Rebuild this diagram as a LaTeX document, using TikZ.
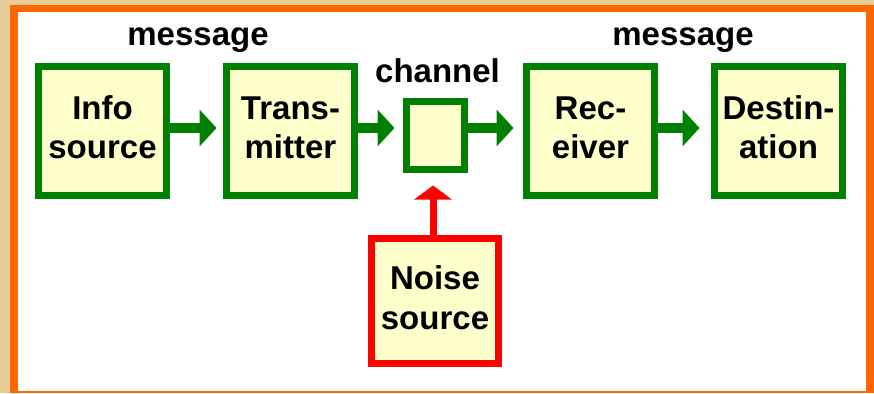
\documentclass[tikz,border=0pt]{standalone}
\usepackage{fontspec}
\setmainfont{Liberation Sans}
\usetikzlibrary{arrows.meta}
\definecolor{bgtan}{RGB}{230,204,150}
\definecolor{frameorange}{RGB}{255,102,0}
\definecolor{boxgreen}{RGB}{0,128,0}
\definecolor{boxfill}{RGB}{255,255,204}
\definecolor{noisered}{RGB}{255,0,0}
\newcommand\mylines[2]{\begin{tabular}{@{}c@{}}#1\\#2\end{tabular}}
\tikzset{
  blockbox/.style={draw=boxgreen, fill=boxfill, line width=7pt, inner sep=0pt,
    minimum width=128pt, minimum height=129pt,
    font=\fontsize{33}{40}\selectfont\bfseries},
  noisebox/.style={blockbox, draw=noisered, minimum width=127pt, minimum height=125pt},
  chanbox/.style={blockbox, minimum width=58pt, minimum height=68pt},
  lbl/.style={anchor=base, inner sep=0pt, font=\fontsize{33}{40}\selectfont\bfseries},
  garrow/.style={draw=boxgreen, line width=10pt, -{Triangle[width=36pt,length=17pt]}},
  rarrow/.style={draw=noisered, line width=7pt, -{Triangle[width=37pt,length=14pt]}}
}
\begin{document}
\begin{tikzpicture}[x=1pt,y=-1pt]
\useasboundingbox (0,0) rectangle (874,393);
\fill[bgtan] (0,0) rectangle (874,393);
\fill[frameorange] (10,5) rectangle (874,393);
\fill[white] (18,12) rectangle (866,391);

\node[blockbox] (info) at (102.5,131) {\mylines{Info}{source}};
\node[blockbox] (trans) at (290.5,131) {\mylines{Trans-}{mitter}};
\node[chanbox] (chan) at (435.5,135.5) {};
\node[blockbox] (recv) at (590.5,131) {\mylines{Rec-}{eiver}};
\node[blockbox] (dest) at (778.5,131) {\mylines{Destin-}{ation}};
\node[noisebox] (noise) at (435,301) {\mylines{Noise}{source}};

\node[lbl] (msg1) at (198,46) {message};
\node[lbl] (chlab) at (437.5,83) {channel};
\node[lbl] (msg2) at (683,46) {message};

\draw[garrow, shorten >=6.5pt] ([yshift=3pt]info.east) -- ([yshift=3pt]trans.west);
\draw[garrow, shorten >=8.5pt] ([yshift=3pt]trans.east) -- ([yshift=7.5pt]chan.west);
\draw[garrow, shorten >=9.5pt] ([yshift=7.5pt]chan.east) -- ([yshift=3pt]recv.west);
\draw[garrow, shorten >=11.5pt] ([yshift=3pt]recv.east) -- ([yshift=3pt]dest.west);
\draw[rarrow, shorten >=12.5pt] ([xshift=-2pt]noise.north) -- ([xshift=-2.5pt]chan.south);
\end{tikzpicture}
\end{document}
